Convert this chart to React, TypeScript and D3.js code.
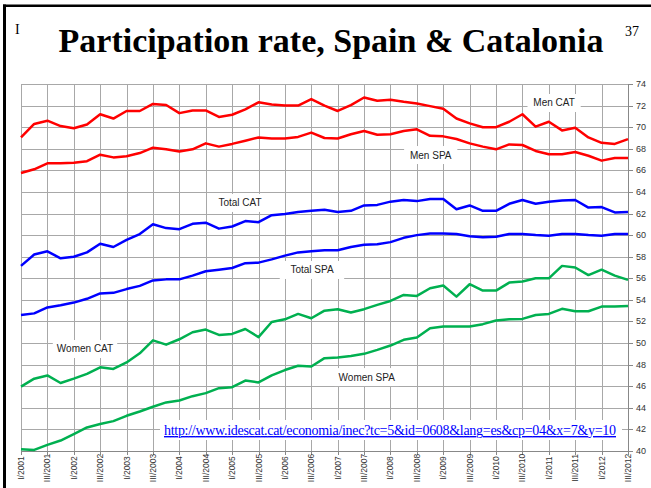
import React, { useEffect, useRef } from "react";
import * as d3 from "d3";

// quarterly series, I/2001 .. III/2012 (47 quarters)
const tickLabels = [
  "I/2001", "III/2001", "I/2002", "III/2002", "I/2003", "III/2003",
  "I/2004", "III/2004", "I/2005", "III/2005", "I/2006", "III/2006",
  "I/2007", "III/2007", "I/2008", "III/2008", "I/2009", "III/2009",
  "I/2010", "III/2010", "I/2011", "III/2011", "I/2012", "III/2012",
];

const yTicks = [40, 42, 44, 46, 48, 50, 52, 54, 56, 58, 60, 62, 64, 66, 68, 70, 72, 74];

const menCAT = [
  69.05, 70.3, 70.6, 70.1, 69.9, 70.25, 71.2, 70.8, 71.5, 71.5,
  72.15, 72.05, 71.3, 71.55, 71.55, 70.95, 71.15, 71.65, 72.3, 72.1,
  72.0, 72.0, 72.6, 72.0, 71.5, 72.05, 72.75, 72.45, 72.55, 72.35,
  72.2, 71.95, 71.7, 70.8, 70.35, 70.0, 70.0, 70.5, 71.2, 70.05,
  70.5, 69.7, 69.95, 69.05, 68.55, 68.45, 68.9,
];
const menSPA = [
  65.75, 66.1, 66.65, 66.65, 66.7, 66.85, 67.45, 67.2, 67.3, 67.6,
  68.1, 67.95, 67.75, 67.95, 68.5, 68.2, 68.45, 68.75, 69.05, 68.95,
  68.95, 69.1, 69.5, 69.0, 68.95, 69.35, 69.65, 69.3, 69.35, 69.65,
  69.8, 69.2, 69.15, 68.9, 68.5, 68.2, 67.95, 68.4, 68.35, 67.8,
  67.5, 67.5, 67.7, 67.35, 66.9, 67.15, 67.15,
];
const totalCAT = [
  57.15, 58.2, 58.5, 57.85, 58.0, 58.4, 59.2, 58.9, 59.55, 60.1,
  61.0, 60.65, 60.55, 61.05, 61.15, 60.6, 60.8, 61.3, 61.2, 61.85,
  61.95, 62.15, 62.25, 62.35, 62.15, 62.25, 62.75, 62.8, 63.1, 63.25,
  63.15, 63.35, 63.35, 62.4, 62.75, 62.25, 62.25, 62.9, 63.25, 62.9,
  63.1, 63.2, 63.25, 62.55, 62.6, 62.1, 62.15,
];
const totalSPA = [
  52.6, 52.75, 53.3, 53.5, 53.75, 54.1, 54.6, 54.65, 55.0, 55.3,
  55.8, 55.9, 55.9, 56.25, 56.65, 56.8, 56.95, 57.4, 57.45, 57.75,
  58.1, 58.4, 58.5, 58.6, 58.6, 58.9, 59.1, 59.15, 59.35, 59.75,
  60.0, 60.15, 60.15, 60.1, 59.9, 59.8, 59.85, 60.1, 60.1, 60.0,
  59.95, 60.1, 60.1, 60.0, 59.95, 60.1, 60.1,
];
const womenCAT = [
  45.97, 46.7, 47.0, 46.3, 46.7, 47.15, 47.75, 47.6, 48.2, 49.05,
  50.25, 49.85, 50.35, 51.0, 51.25, 50.75, 50.85, 51.3, 50.55, 51.95,
  52.2, 52.7, 52.3, 53.0, 53.14, 52.83, 53.14, 53.54, 53.9, 54.46,
  54.37, 55.08, 55.33, 54.3, 55.45, 54.86, 54.86, 55.6, 55.7, 56.0,
  56.0, 57.15, 57.0, 56.3, 56.8, 56.25, 55.85,
];
const womenSPA = [
  40.17, 40.1, 40.57, 40.97, 41.56, 42.18, 42.5, 42.77, 43.26, 43.66,
  44.1, 44.5, 44.68, 45.08, 45.36, 45.82, 45.91, 46.53, 46.35, 47.0,
  47.5, 47.9, 47.83, 48.6, 48.66, 48.81, 49.0, 49.37, 49.77, 50.3,
  50.51, 51.38, 51.53, 51.53, 51.53, 51.75, 52.09, 52.2, 52.24, 52.6,
  52.7, 53.17, 52.95, 52.95, 53.38, 53.38, 53.44,
];

const url = "http://www.idescat.cat/economia/inec?tc=5&id=0608&lang=es&cp=04&x=7&y=10";

const App = () => {
  const ref = useRef<SVGSVGElement>(null);

  useEffect(() => {
    const width = 651;
    const height = 488;
    const svg = d3.select(ref.current);
    svg.selectAll("*").remove();

    const x = d3.scaleLinear().domain([0, menCAT.length - 1]).range([21, 628]);
    const y = d3.scaleLinear().domain([40, 74]).range([451, 84]);

    // slide frame
    svg.append("rect").attr("width", width).attr("height", height).attr("fill", "#fff");
    svg.append("rect").attr("x", 3).attr("y", 4.5).attr("width", 3).attr("height", height).attr("fill", "#000");
    svg.append("rect").attr("x", 3).attr("y", 4.5).attr("width", width).attr("height", 2.5).attr("fill", "#000");

    svg.append("text").attr("x", 15).attr("y", 34)
      .style("font", "14px 'Liberation Serif', serif").text("I");
    svg.append("text").attr("x", 625).attr("y", 36)
      .style("font", "14px 'Liberation Serif', serif").text("37");
    svg.append("text").attr("x", 331).attr("y", 52).attr("text-anchor", "middle")
      .style("font", "bold 34px 'Liberation Serif', serif")
      .text("Participation rate, Spain & Catalonia");

    // grid
    const grid = svg.append("g").attr("stroke", "#a8a8a8").attr("stroke-width", 1);
    grid.selectAll("line.h").data(yTicks).enter().append("line")
      .attr("x1", x(0)).attr("x2", x(46))
      .attr("y1", d => Math.round(y(d)) + 0.5).attr("y2", d => Math.round(y(d)) + 0.5);
    grid.selectAll("line.v").data(tickLabels).enter().append("line")
      .attr("x1", (_, i) => Math.round(x(i * 2)) + 0.5).attr("x2", (_, i) => Math.round(x(i * 2)) + 0.5)
      .attr("y1", y(74)).attr("y2", y(40));

    // axes
    const axisColor = "#888";
    svg.append("line").attr("x1", x(46) + 0.5).attr("x2", x(46) + 0.5)
      .attr("y1", y(74)).attr("y2", y(40)).attr("stroke", axisColor);
    svg.append("line").attr("x1", x(0)).attr("x2", x(46))
      .attr("y1", Math.round(y(40)) + 0.5).attr("y2", Math.round(y(40)) + 0.5).attr("stroke", axisColor);
    svg.selectAll("line.yt").data(yTicks).enter().append("line")
      .attr("x1", x(46)).attr("x2", x(46) + 5)
      .attr("y1", d => Math.round(y(d)) + 0.5).attr("y2", d => Math.round(y(d)) + 0.5)
      .attr("stroke", axisColor);
    svg.selectAll("line.xt").data(tickLabels).enter().append("line")
      .attr("x1", (_, i) => Math.round(x(i * 2)) + 0.5).attr("x2", (_, i) => Math.round(x(i * 2)) + 0.5)
      .attr("y1", y(40)).attr("y2", y(40) + 4).attr("stroke", axisColor);

    svg.selectAll("text.yl").data(yTicks).enter().append("text")
      .attr("x", 636).attr("y", d => y(d) + 3)
      .attr("fill", "#333")
      .style("font", "9px 'Liberation Sans', Arial, sans-serif")
      .text(d => d);

    svg.selectAll("text.xl").data(tickLabels).enter().append("text")
      .attr("transform", (_, i) => `translate(${x(i * 2) + 3},468) rotate(-90)`)
      .attr("text-anchor", "middle")
      .attr("fill", "#333")
      .style("font", "8.5px 'Liberation Sans', Arial, sans-serif")
      .text(d => d);

    // series
    const series = [
      { values: menCAT, color: "#ff0000" },
      { values: menSPA, color: "#ff0000" },
      { values: totalCAT, color: "#0000ff" },
      { values: totalSPA, color: "#0000ff" },
      { values: womenCAT, color: "#00b050" },
      { values: womenSPA, color: "#00b050" },
    ];
    const line = d3.line<number>().x((_, i) => x(i)).y(d => y(d));
    svg.append("g").selectAll("path").data(series).enter().append("path")
      .attr("d", d => line(d.values))
      .attr("fill", "none")
      .attr("stroke", d => d.color)
      .attr("stroke-width", 2.5)
      .attr("stroke-linejoin", "round");

    // series labels (quarter index, value)
    const labels = [
      { text: "Men CAT", q: 40.4, v: 72.24 },
      { text: "Men SPA", q: 31.05, v: 67.42 },
      { text: "Total CAT", q: 16.6, v: 62.98 },
      { text: "Total SPA", q: 22.05, v: 56.77 },
      { text: "Women CAT", q: 4.85, v: 49.45 },
      { text: "Women SPA", q: 26.2, v: 46.85 },
    ];
    const lg = svg.append("g").selectAll("g").data(labels).enter().append("g")
      .attr("transform", d => `translate(${x(d.q)},${y(d.v)})`);
    lg.append("rect")
      .attr("x", d => -(d.text.length * 5.6 + 14) / 2).attr("y", -9)
      .attr("width", d => d.text.length * 5.6 + 14).attr("height", 18)
      .attr("fill", "#fff");
    lg.append("text")
      .attr("text-anchor", "middle").attr("y", 3.5)
      .attr("fill", "#222")
      .style("font", "10px 'Liberation Sans', Arial, sans-serif")
      .text(d => d.text);

    // source link
    svg.append("rect").attr("x", 160).attr("y", 420).attr("width", 462).attr("height", 20).attr("fill", "#fff");
    svg.append("text").attr("x", 390).attr("y", 435).attr("text-anchor", "middle")
      .attr("fill", "#0000ff")
      .attr("text-decoration", "underline")
      .attr("textLength", 452)
      .style("font", "14px 'Liberation Serif', serif")
      .text(url);
  }, []);

  return (
    <svg
      ref={ref}
      width={651}
      height={488}
      style={{ position: "absolute", left: 0, top: 0, display: "block" }}
    />
  );
};

export default App;
